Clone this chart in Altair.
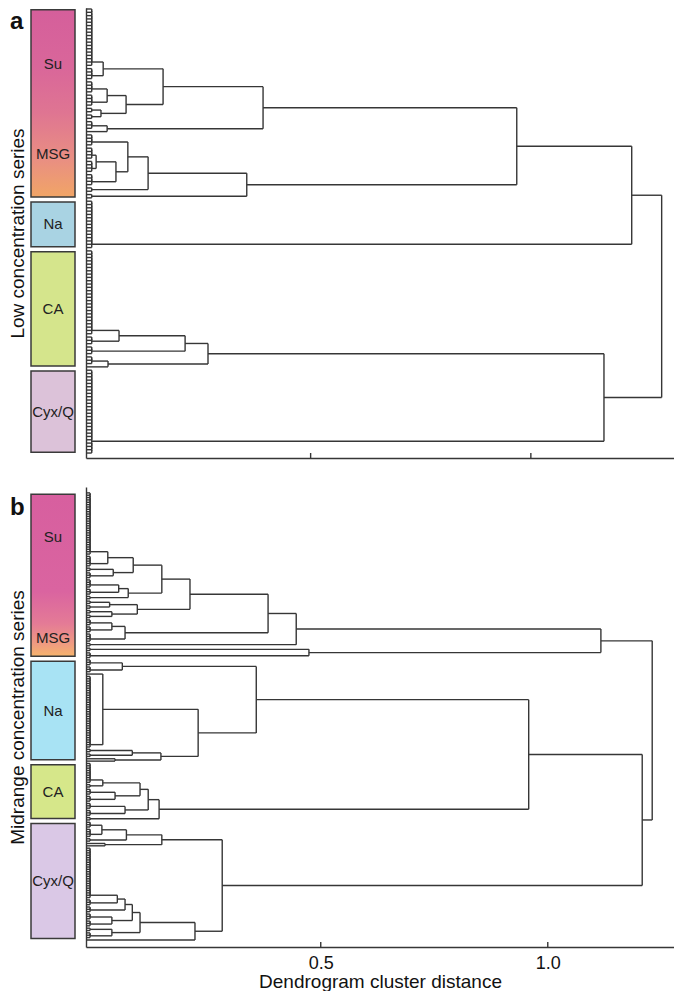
import altair as alt
import pandas as pd

FONT = "Liberation Sans"
LINE = "#363636"

# ---------------- data ----------------
# Dendrogram trees: [merge distance, upper child, lower child];
# an integer n is a run of n near-identical leaves (negative = run merged bottom-up)
CH_A = 0.003   # merge distance of near-identical leaves, panel a
CH_B = -0.008  # merge distance of near-identical leaves, panel b

P_A = [0.392,
       [0.165, [0.029, 18, 4], [0.081, [0.038, 4, 4], [0.024, 2, 2]]],
       [0.038, 3, 1]]
A4_A = [0.355, [0.131, [0.085, 4, [0.058, [0.013, 4, 4], 4]], 2], 2]
UPPER_A = [1.229, [0.968, P_A, A4_A], 15]
CA_A = [0.267, [0.215, [0.065, 26, 3], 3], [0.040, 3, 1]]
CYX_A = [CH_A, 22, -4]
TREE_A = [1.297, UPPER_A, [1.166, CA_A, CYX_A]]

T4_B = [0.150, [0.087, [0.031, 27, 5], [0.043, 2, 3]], [0.076, [0.055, 4, 3], 2]]
T5_B = [0.096, [0.035, 2, 2], [0.040, 2, 2]]
T6_B = [0.069, [0.040, 3, 3], 4]
SU_B = [1.117, [0.446, [0.384, [0.212, T4_B, T5_B], T6_B], 2], [0.474, 2, 3]]
NA_B = [0.358, [0.063, 3, 3], [0.230, [0.020, 1, 31], [0.148, [0.085, 2, 2], [0.047, 1, 1]]]]
CA_B = [0.144, [0.120, [0.102, [0.020, 9, 2], [0.047, 3, 3]], [0.069, 3, 3]], 2]
CYX_B = [0.283,
         [0.150, [0.072, [0.018, 3, 4], 2], [0.025, 1, 1]],
         [0.223, [0.102, [0.085, [0.069, [0.052, 22, 3], 3], [0.040, 3, 3]], [0.040, 2, 3]], 1]]
TREE_B = [1.230, SU_B, [1.208, [0.958, NA_B, CA_B], CYX_B]]

# sample groups (leaf counts, top to bottom)
GROUPS_A = ["Su/MSG", "Na", "CA", "Cyx/Q"]
COUNTS_A = [58, 15, 36, 26]
COLORS_A = ["#d55f9b", "#a9d3e3", "#d5e58c", "#dcc2d9"]
GRAD_A = [("#d55f9b", 0.0), ("#d9669a", 0.3), ("#df7592", 0.55), ("#e98f82", 0.8), ("#f1a566", 1.0)]

GROUPS_B = ["Su/MSG", "Na", "CA", "Cyx/Q"]
COUNTS_B = [71, 44, 25, 51]
COLORS_B = ["#d75f9f", "#a8e3f4", "#d6e78a", "#dac8e6"]
GRAD_B = [("#d75f9f", 0.0), ("#da64a0", 0.6), ("#e47b96", 0.8), ("#ef9a82", 0.92), ("#f6b46c", 1.0)]

TICKS = [0.5, 1.0]

# ---------------- helpers ----------------
def expand(t, ch):
    if isinstance(t, int):
        node = "L"
        for _ in range(abs(t) - 1):
            node = [ch, node, "L"] if t > 0 else [ch, "L", node]
        return node
    return [t[0], expand(t[1], ch), expand(t[2], ch)]


def layout(tree, base):
    segs = []
    k = [0]

    def rec(t):
        if t == "L":
            y = k[0]
            k[0] += 1
            return y, base
        h = t[0]
        ya, ha = rec(t[1])
        yb, hb = rec(t[2])
        if h > ha:
            segs.append((ha, h, ya, ya))
        if h > hb:
            segs.append((hb, h, yb, yb))
        if yb != ya:
            segs.append((h, h, ya, yb))
        return (ya + yb) / 2, h

    rec(tree)
    return pd.DataFrame(segs, columns=["x", "x2", "y", "y2"])


BOXW = 44
PLOTW = 588


def dendro(tree, ch, xdom, ydom, height, last):
    df = layout(expand(tree, ch), xdom[0])
    xs = alt.Scale(domain=xdom, nice=False, zero=False)
    ys = alt.Scale(domain=ydom, nice=False, zero=False, reverse=True)
    if last:
        xax = alt.Axis(values=TICKS, format=".1f", ticks=False, labelPadding=7,
                       labelFontSize=18, title="Dendrogram cluster distance",
                       titleFontSize=19, titleFontWeight="normal", titlePadding=0)
    else:
        xax = alt.Axis(values=TICKS, ticks=False, labels=False, title=None)
    yax = alt.Axis(ticks=False, labels=False, title=None)
    lines = alt.Chart(df).mark_rule(color=LINE, strokeWidth=1.4).encode(
        x=alt.X("x:Q", scale=xs, axis=xax), x2="x2:Q",
        y=alt.Y("y:Q", scale=ys, axis=yax), y2="y2:Q")
    tk = alt.Chart(pd.DataFrame({"x": TICKS})).mark_rule(color=LINE, strokeWidth=1.4).encode(
        x=alt.X("x:Q", scale=xs, axis=xax), y=alt.value(height), y2=alt.value(height - 5))
    return alt.layer(lines, tk).properties(width=PLOTW, height=height)


def boxes(groups, counts, colors, grad, ydom, height, title, letter, su_frac, msg_frac, letter_y):
    starts = [sum(counts[:i]) for i in range(len(counts))]
    df = pd.DataFrame({"g": groups, "y0": [s - 0.5 for s in starts],
                       "y1": [s + c - 0.5 for s, c in zip(starts, counts)], "c": colors})
    ys = alt.Scale(domain=ydom, nice=False, zero=False, reverse=True)
    yax = alt.Axis(title=title, domain=False, ticks=False, labels=False,
                   titleFontSize=19, titleFontWeight="normal", titlePadding=4)
    gradient = alt.LinearGradient(gradient="linear", x1=0, x2=0, y1=0, y2=1,
                                  stops=[alt.GradientStop(color=c, offset=o) for c, o in grad])
    enc = dict(y=alt.Y("y0:Q", scale=ys, axis=yax), y2="y1:Q",
               x=alt.value(0), x2=alt.value(BOXW))
    solid = alt.Chart(df.iloc[1:]).mark_rect(stroke="#3a3a3a", strokeWidth=1.5,
                                             yOffset=2.5, y2Offset=-2.5).encode(
        color=alt.Color("c:N", scale=None), **enc)
    grd = alt.Chart(df.iloc[:1]).mark_rect(stroke="#3a3a3a", strokeWidth=1.5, fill=gradient,
                                           yOffset=2.5, y2Offset=-2.5).encode(**enc)
    n0 = counts[0]
    lab = pd.DataFrame({
        "t": ["Su", "MSG"] + groups[1:],
        "r": [su_frac * (n0 - 1), msg_frac * (n0 - 1)] +
             [s + (c - 1) / 2 for s, c in zip(starts[1:], counts[1:])]})
    txt = alt.Chart(lab).mark_text(font=FONT, fontSize=15, color="#222").encode(
        y=alt.Y("r:Q", scale=ys, axis=yax), x=alt.value(BOXW / 2), text="t:N")
    let = alt.Chart(pd.DataFrame({"t": [letter]})).mark_text(
        font=FONT, fontSize=24, fontWeight="bold", align="left", baseline="alphabetic",
        color="#111").encode(x=alt.value(-21), y=alt.value(letter_y), text="t:N")
    return alt.layer(solid, grd, txt, let).properties(width=BOXW, height=height)


YDOM_A = [-0.3, 135.5]
YDOM_B = [-2.5, 193.0]
H_A, H_B = 450, 460

row_a = alt.hconcat(
    boxes(GROUPS_A, COUNTS_A, COLORS_A, GRAD_A, YDOM_A, H_A, "Low concentration series", "a",
          0.29, 0.77, 21),
    dendro(TREE_A, CH_A, [-0.010, 1.325], YDOM_A, H_A, False),
    spacing=9)
row_b = alt.hconcat(
    boxes(GROUPS_B, COUNTS_B, COLORS_B, GRAD_B, YDOM_B, H_B, "Midrange concentration series", "b",
          0.27, 0.88, 28),
    dendro(TREE_B, CH_B, [-0.017, 1.278], YDOM_B, H_B, True),
    spacing=9)

chart = alt.vconcat(row_a, row_b, spacing=28).properties(padding=0).configure_view(
    stroke=None).configure_axis(
    grid=False, domainColor=LINE, domainWidth=1.4, labelFont=FONT, titleFont=FONT,
    labelColor="#111", titleColor="#111")

chart.save("out.html", embed_options={"renderer": "svg", "actions": False})
